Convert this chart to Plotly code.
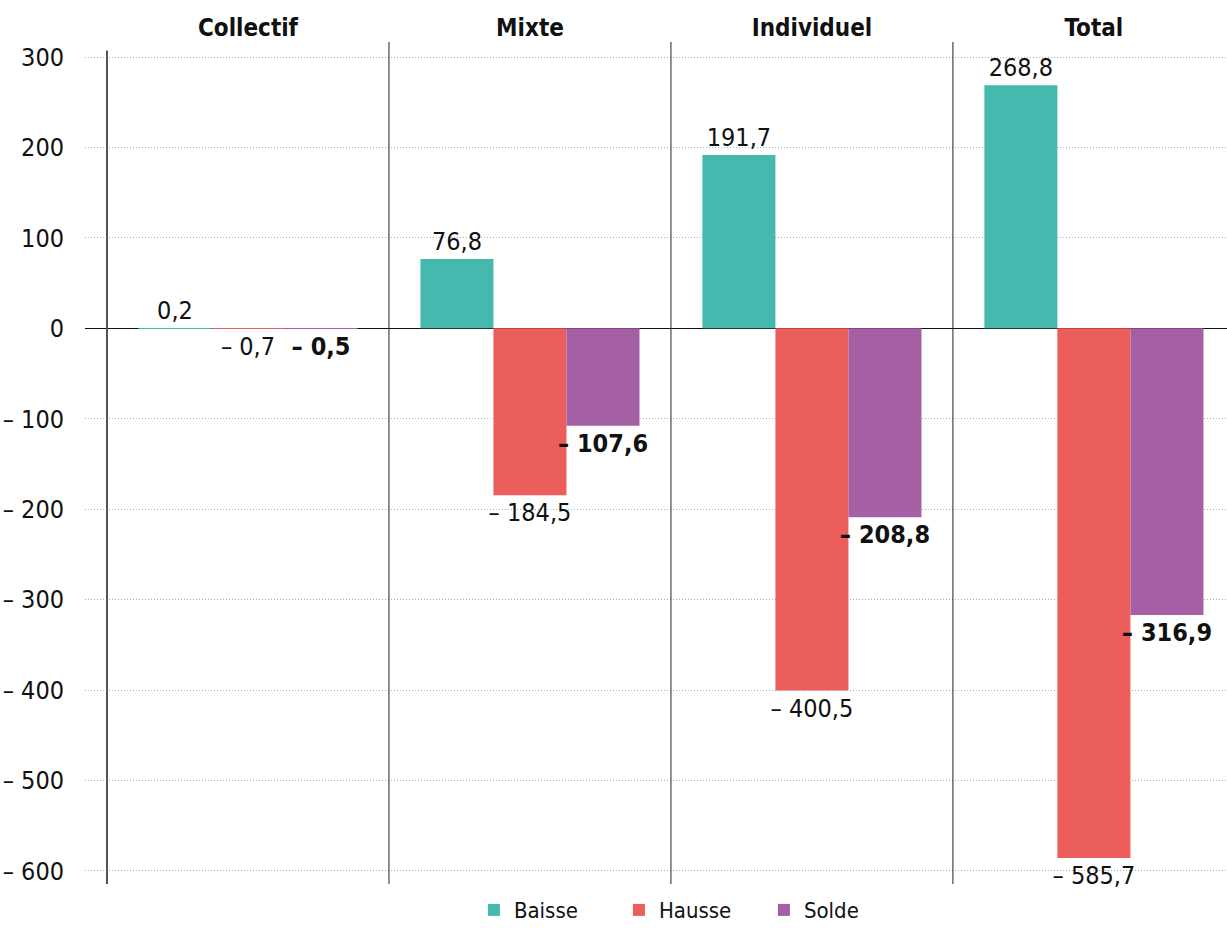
import plotly.graph_objects as go

categories = ["Collectif", "Mixte", "Individuel", "Total"]
baisse = [0.2, 76.8, 191.7, 268.8]
hausse = [-0.7, -184.5, -400.5, -585.7]
solde = [-0.5, -107.6, -208.8, -316.9]
series_names = ["Baisse", "Hausse", "Solde"]
colors = ["#45B9AE", "#EC5E5C", "#A55FA5"]
y_tickvals = [300, 200, 100, 0, -100, -200, -300, -400, -500, -600]

FONT = "Liberation Sans Narrow, Arial Narrow, DejaVu Sans Condensed, sans-serif"


def fmt(v, bold=False):
    s = f"{abs(v):.1f}".replace(".", ",")
    if v < 0:
        s = "– " + s
    return f"<b>{s}</b>" if bold else s


def fmt_tick(v):
    return ("– " + str(abs(v))) if v < 0 else str(v)


fig = go.Figure()
for name, vals, col, bold in zip(series_names, [baisse, hausse, solde], colors, [False, False, True]):
    fig.add_trace(go.Bar(
        x=categories, y=vals, name=name, marker=dict(color=col, line=dict(width=0)),
        text=[fmt(v, bold) for v in vals], textposition="outside",
        textfont=dict(family=FONT, size=25, color="#111"),
        constraintext="none", cliponaxis=False,
    ))

shapes = []
for i in range(len(categories)):
    shapes.append(dict(type="line", xref="x", yref="paper", x0=i - 0.5, x1=i - 0.5,
                       y0=0, y1=0.99 if i == 0 else 1,
                       line=dict(color="#555" if i == 0 else "#222", width=2 if i == 0 else 1)))

fig.update_layout(
    width=1227, height=929,
    margin=dict(l=85, r=0, t=42, b=45, autoexpand=False),
    paper_bgcolor="white", plot_bgcolor="white",
    barmode="group", bargap=0.223, bargroupgap=0,
    font=dict(family=FONT, size=25, color="#111"),
    shapes=shapes,
    legend=dict(orientation="h", x=0.531, xanchor="center", y=-0.031, yanchor="middle",
                font=dict(family=FONT, size=22, color="#111"), entrywidth=100),
    showlegend=True,
)
fig.update_xaxes(
    range=[-0.578, 3.472], side="top", showgrid=False, zeroline=False, showline=False,
    tickmode="array", tickvals=categories, ticktext=[f"<b>{c}</b>" for c in categories],
    tickfont=dict(family=FONT, size=24, color="#111"), ticks="",
)
fig.update_yaxes(
    range=[-614.4, 316.6], tickmode="array", tickvals=y_tickvals,
    ticktext=[fmt_tick(v) for v in y_tickvals],
    showgrid=True, gridcolor="#9fb2c4", griddash="1px,2px", gridwidth=1,
    zeroline=True, zerolinecolor="#111", zerolinewidth=1,
    showline=False, ticks="", ticklabelstandoff=20,
    tickfont=dict(family=FONT, size=25, color="#111"),
)

fig.write_html("out.html")
